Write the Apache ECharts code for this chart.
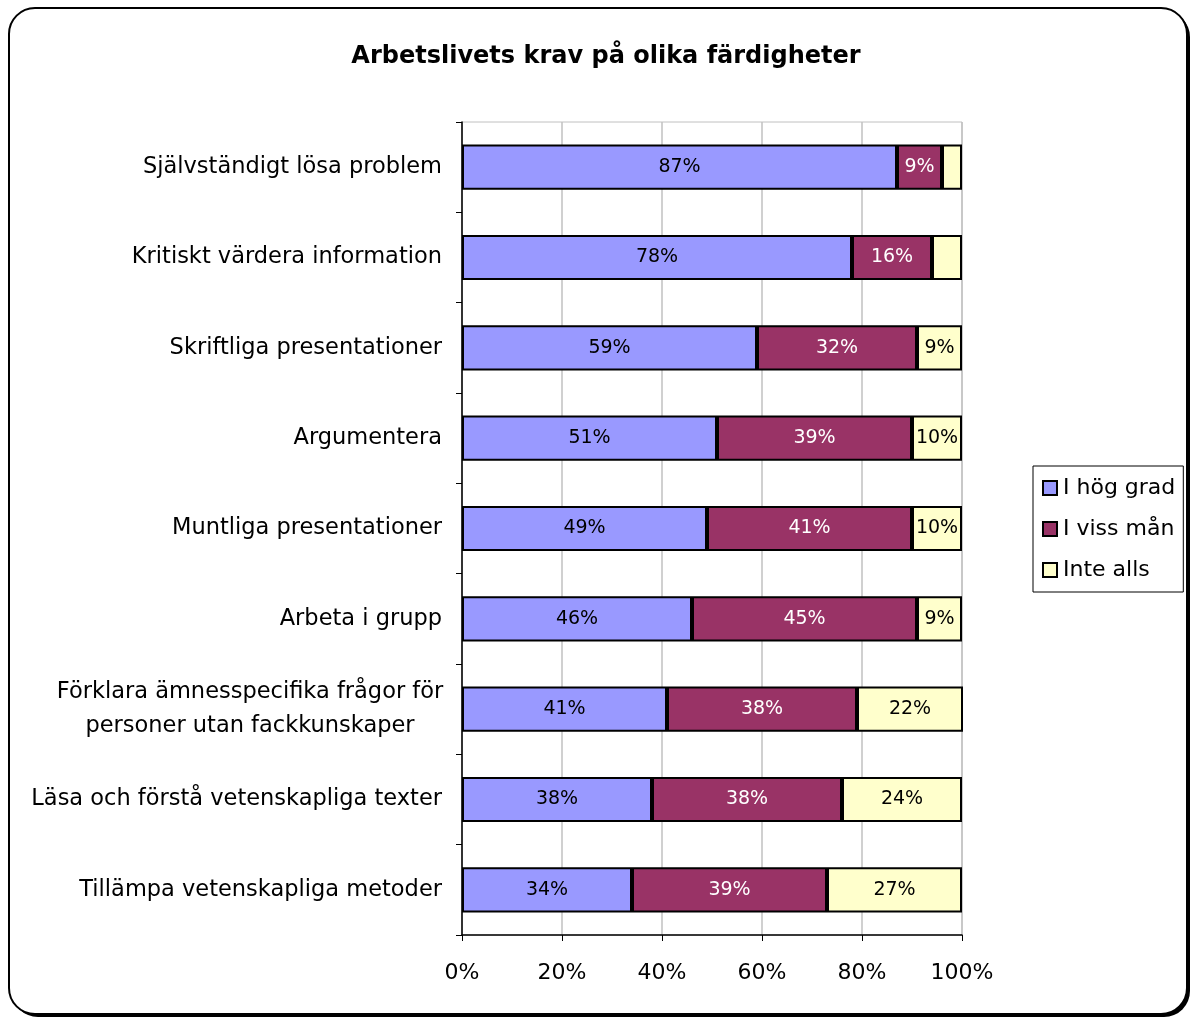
<!DOCTYPE html>
<html>
<head>
<meta charset="utf-8">
<title>Arbetslivets krav på olika färdigheter</title>
<script src="https://cdn.jsdelivr.net/npm/echarts@6/dist/echarts.min.js"></script>
<style>
  html, body { margin: 0; padding: 0; background: #fff; }
  #chart { width: 1192px; height: 1019px; }
</style>
</head>
<body>
<div id="chart"></div>
<script>
// categories, top to bottom
const categories = [
  'Självständigt lösa problem',
  'Kritiskt värdera information',
  'Skriftliga presentationer',
  'Argumentera',
  'Muntliga presentationer',
  'Arbeta i grupp',
  'Förklara ämnesspecifika frågor för\npersoner utan fackkunskaper',
  'Läsa och förstå vetenskapliga texter',
  'Tillämpa vetenskapliga metoder'
];
const seriesNames = ['I hög grad', 'I viss mån', 'Inte alls'];
const hogGrad = [87, 78, 59, 51, 49, 46, 41, 38, 34];
const vissMan = [9, 16, 32, 39, 41, 45, 38, 38, 39];
const inteAlls = [4, 6, 9, 10, 10, 9, 22, 24, 27];
const xTicks = [0, 20, 40, 60, 80, 100];

const colors = ['#9999ff', '#993366', '#ffffcc'];
const labelColors = ['#000', '#fff', '#000'];
const FONT = 'DejaVu Sans';

const chart = echarts.init(document.getElementById('chart'));

function makeSeries(name, data, i) {
  return {
    name: name,
    type: 'bar',
    stack: 'total',
    barWidth: '50%',
    data: data,
    itemStyle: { color: colors[i], borderColor: '#000', borderWidth: 2 },
    label: {
      show: true,
      position: 'inside',
      color: labelColors[i],
      fontFamily: FONT,
      fontSize: 19,
      formatter: p => (p.value < 7 ? '' : p.value + '%')
    },
    emphasis: { disabled: true }
  };
}

const option = {
  backgroundColor: '#fff',
  animation: false,
  title: {
    text: 'Arbetslivets krav på olika färdigheter',
    left: 601,
    textAlign: 'center',
    top: 40,
    textStyle: { fontFamily: FONT, fontSize: 24, fontWeight: 'bold', color: '#000' }
  },
  graphic: [{
    type: 'rect',
    z: -11,
    shape: { x: 12, y: 11, width: 1178, height: 1006, r: 26 },
    style: { fill: '#000' }
  }, {
    type: 'rect',
    z: -10,
    shape: { x: 9, y: 8, width: 1178, height: 1006, r: 26 },
    style: { fill: '#fff', stroke: '#000', lineWidth: 2 }
  }],
  legend: {
    orient: 'vertical',
    left: 1033,
    top: 466,
    data: seriesNames,
    backgroundColor: '#fff',
    borderColor: '#000',
    borderWidth: 1,
    padding: [11, 8, 11, 9],
    itemGap: 19,
    itemWidth: 14,
    itemHeight: 14,
    icon: 'rect',
    textStyle: { fontFamily: FONT, fontSize: 22, color: '#000', padding: [0, 0, 0, 1] }
  },
  grid: {
    left: 462, right: 230, top: 122, bottom: 84,
    show: true, borderColor: '#c0c0c0', borderWidth: 1
  },
  xAxis: {
    type: 'value',
    min: 0, max: 100, interval: 20,
    axisLine: { show: true, lineStyle: { color: '#000', width: 1.5 } },
    axisTick: { show: true, length: 6, lineStyle: { color: '#000' } },
    splitLine: { show: true, lineStyle: { color: '#c0c0c0', width: 1.5 } },
    axisLabel: {
      color: '#000', fontFamily: FONT, fontSize: 22, margin: 27,
      formatter: v => (xTicks.indexOf(v) >= 0 ? v + '%' : '')
    }
  },
  yAxis: {
    type: 'category',
    inverse: true,
    data: categories,
    axisLine: { show: true, lineStyle: { color: '#000', width: 1.5 } },
    axisTick: { show: true, length: 6, lineStyle: { color: '#000' } },
    axisLabel: {
      color: '#000', fontFamily: FONT, fontSize: 22.5, margin: 20,
      lineHeight: 34,
      formatter: v => {
        if (v.indexOf('\n') < 0) return v;
        return v.split('\n').map(s => '{m|' + s + '}').join('\n');
      },
      rich: {
        m: { width: 384, align: 'center', fontFamily: FONT, fontSize: 22.5, color: '#000', lineHeight: 34 }
      }
    }
  },
  series: [
    makeSeries(seriesNames[0], hogGrad, 0),
    makeSeries(seriesNames[1], vissMan, 1),
    makeSeries(seriesNames[2], inteAlls, 2)
  ]
};

chart.setOption(option);
</script>
</body>
</html>
